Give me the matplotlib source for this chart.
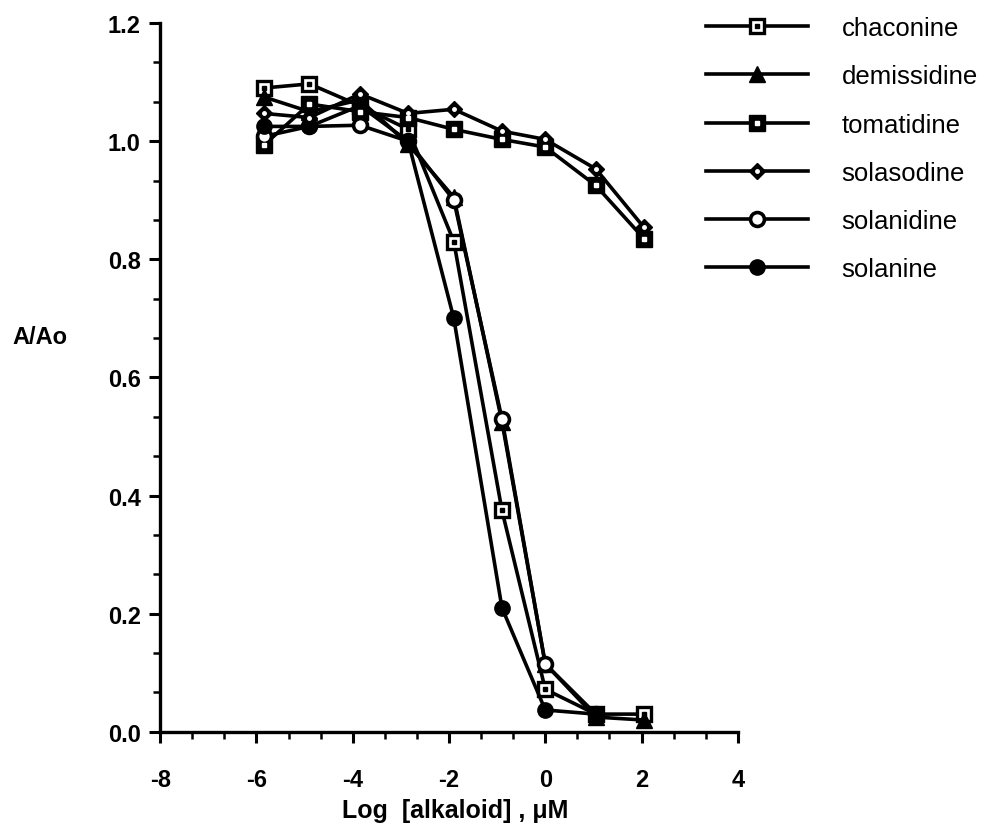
import numpy as np
import matplotlib
matplotlib.use("Agg")
import matplotlib.pyplot as plt
from matplotlib.ticker import MultipleLocator, FormatStrFormatter

plt.rcParams["font.family"] = ["Liberation Sans", "DejaVu Sans"]

# log concentration, uM
log_conc = [-5.85, -4.9, -3.85, -2.85, -1.9, -0.9, 0.0, 1.05, 2.05]

chaconine = [1.09, 1.097, 1.06, 1.02, 0.83, 0.375, 0.072, 0.03, 0.03]
demissidine = [1.075, 1.05, 1.07, 0.995, 0.905, 0.525, 0.115, 0.025, 0.02]
tomatidine = [0.993, 1.063, 1.05, 1.04, 1.02, 1.003, 0.99, 0.925, 0.835]
solasodine = [1.047, 1.04, 1.08, 1.047, 1.054, 1.017, 1.003, 0.953, 0.854]
solanidine = [1.008, 1.025, 1.027, 1.0, 0.9, 0.53, 0.115, 0.03]
solanine = [1.025, 1.025, 1.06, 1.0, 0.70, 0.21, 0.037, 0.03]

labels = ["chaconine", "demissidine", "tomatidine", "solasodine", "solanidine", "solanine"]

fig = plt.figure(figsize=(9.89, 8.29), dpi=100)
ax = fig.add_axes([0.162, 0.116, 0.584, 0.855])

lw = 2.6
handles = []

# chaconine: open square with a dot
l1, = ax.plot(log_conc, chaconine, "k-", lw=lw, marker="s", ms=10, mfc="white", mec="black", mew=2.4, zorder=3)
d1, = ax.plot(log_conc, chaconine, ls="none", marker="s", ms=2.5, color="black", zorder=4)
handles.append((l1, d1))

# demissidine: filled triangle
l2, = ax.plot(log_conc, demissidine, "k-", lw=lw, marker="^", ms=12, color="black", zorder=3)
handles.append(l2)

# tomatidine: filled square with a small white dot
l3, = ax.plot(log_conc, tomatidine, "k-", lw=lw, marker="s", ms=11, color="black", zorder=3)
d3, = ax.plot(log_conc, tomatidine, ls="none", marker="s", ms=2.5, color="white", zorder=4)
handles.append((l3, d3))

# solasodine: small diamond with white dot
l4, = ax.plot(log_conc, solasodine, "k-", lw=lw, marker="D", ms=8, color="black", zorder=3)
d4, = ax.plot(log_conc, solasodine, ls="none", marker="o", ms=2.5, color="white", zorder=4)
handles.append((l4, d4))

# solanidine: open circle
l5, = ax.plot(log_conc[:len(solanidine)], solanidine, "k-", lw=lw, marker="o", ms=10,
              mfc="white", mec="black", mew=2.6, zorder=3)
handles.append(l5)

# solanine: filled circle
l6, = ax.plot(log_conc[:len(solanine)], solanine, "k-", lw=lw, marker="o", ms=11, color="black", zorder=3)
handles.append(l6)

ax.set_xlim(-8, 4)
ax.set_ylim(0, 1.2)
ax.xaxis.set_major_locator(MultipleLocator(2))
ax.xaxis.set_minor_locator(MultipleLocator(2 / 3))
ax.yaxis.set_major_locator(MultipleLocator(0.2))
ax.yaxis.set_minor_locator(MultipleLocator(0.2 / 3))
ax.xaxis.set_major_formatter(FormatStrFormatter("%d"))
ax.yaxis.set_major_formatter(FormatStrFormatter("%.1f"))

for s in ["top", "right"]:
    ax.spines[s].set_visible(False)
for s in ["left", "bottom"]:
    ax.spines[s].set_linewidth(2.4)

ax.tick_params(which="major", direction="out", length=8, width=2.2, labelsize=17, pad=6)
ax.tick_params(axis="x", which="major", pad=18)
ax.tick_params(which="minor", direction="out", length=5, width=1.8)
for t in ax.get_xticklabels() + ax.get_yticklabels():
    t.set_fontweight("bold")

fig.text(0.04, 1 - 338 / 829, "A/Ao", fontsize=17, fontweight="bold", ha="center", va="center")
fig.text(0.46, 1 - 811 / 829, "Log  [alkaloid] , \u03bcM", fontsize=18, fontweight="bold",
         ha="center", va="center")

fig.legend(handles, labels, loc="upper left", bbox_to_anchor=(0.69, 1.007), frameon=False,
           fontsize=18.5, handlelength=4.0, handletextpad=1.3, labelspacing=0.94, numpoints=1)

fig.savefig("out.png", dpi=100)
